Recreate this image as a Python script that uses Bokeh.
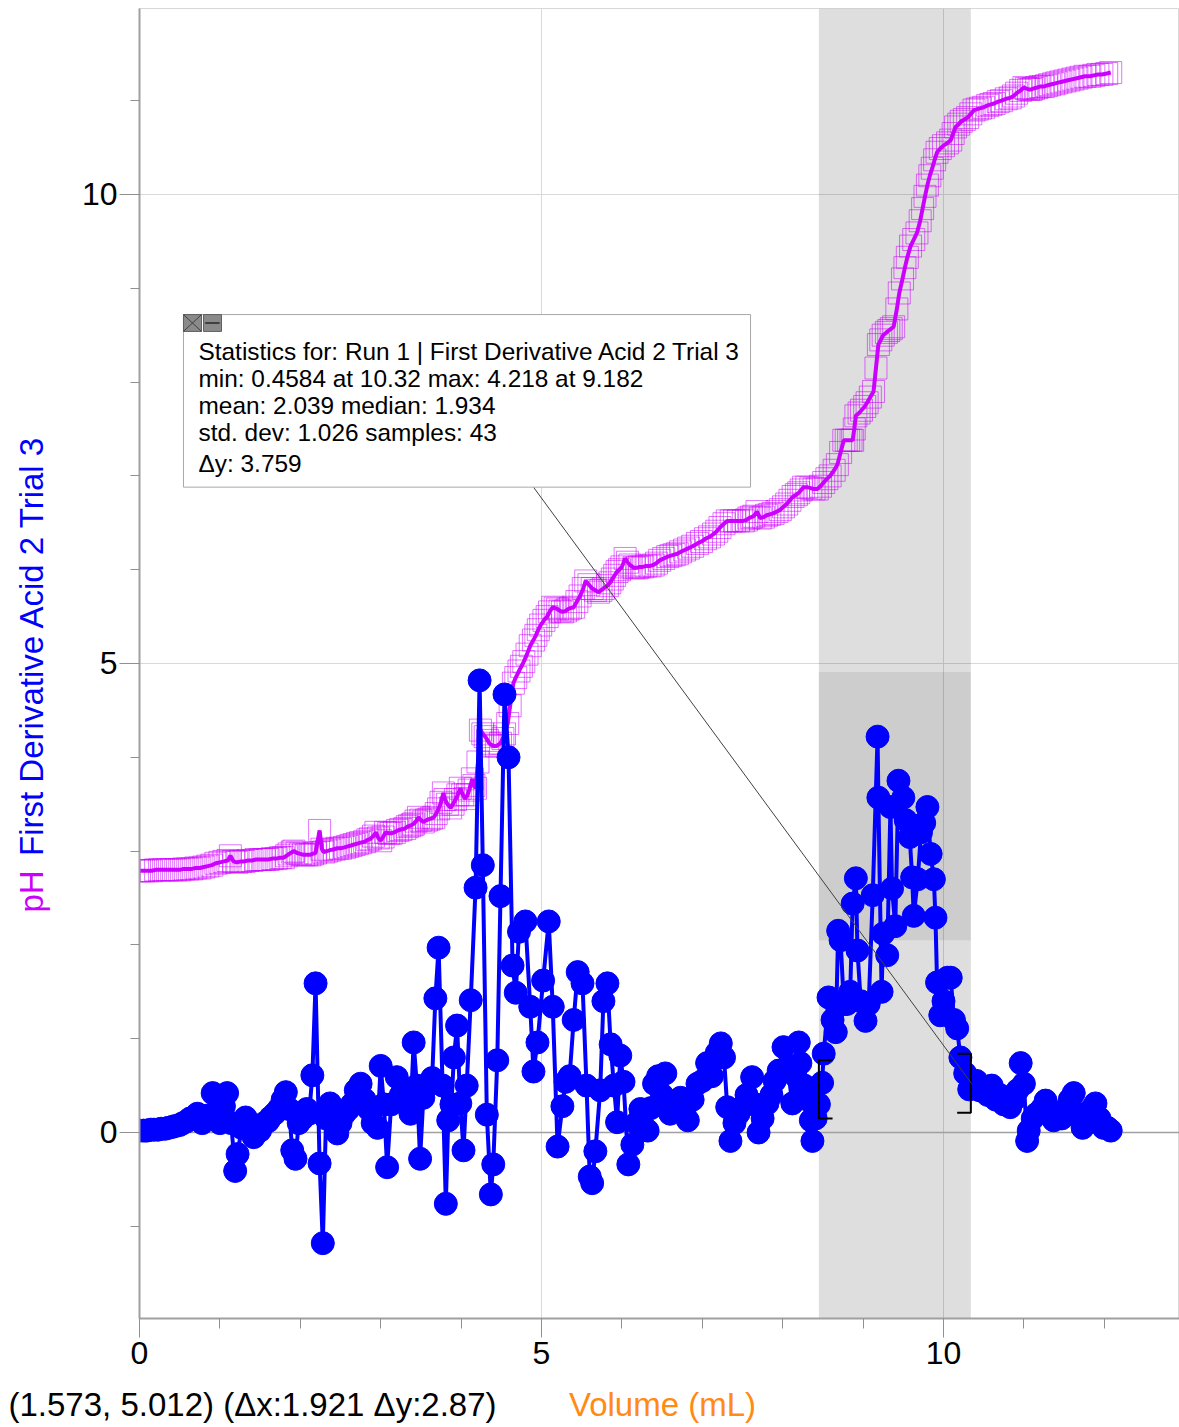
from bokeh.plotting import figure
from bokeh.models import Range1d, FixedTicker, BoxAnnotation, Label, Span
from bokeh.layouts import row, column
from bokeh.core.properties import value
from bokeh.embed import file_html
from bokeh.resources import INLINE
import math

# ---------------- data ----------------
ph_x = [0.00, 0.05, 0.10, 0.15, 0.20, 0.25, 0.30, 0.35, 0.40, 0.45, 0.50, 0.55, 0.60, 0.65,
        0.70, 0.75, 0.80, 0.85, 0.90, 0.95, 1.00, 1.05, 1.10, 1.13, 1.17, 1.21, 1.26, 1.30,
        1.35, 1.40, 1.45, 1.50, 1.55, 1.60, 1.65, 1.70, 1.75, 1.79, 1.83, 1.86, 1.90, 1.92,
        1.96, 2.00, 2.04, 2.08, 2.12, 2.15, 2.19, 2.24, 2.27, 2.29, 2.33, 2.37, 2.42, 2.46,
        2.50, 2.55, 2.59, 2.63, 2.67, 2.71, 2.75, 2.80, 2.84, 2.87, 2.91, 2.94, 2.97, 3.00,
        3.03, 3.06, 3.10, 3.13, 3.17, 3.21, 3.25, 3.30, 3.33, 3.36, 3.39, 3.41, 3.44, 3.47,
        3.50, 3.53, 3.57, 3.60, 3.63, 3.66, 3.69, 3.72, 3.75, 3.78, 3.80, 3.83, 3.87, 3.90,
        3.93, 3.96, 3.99, 4.02, 4.05, 4.08, 4.10, 4.14, 4.16, 4.18, 4.21, 4.24, 4.27, 4.30,
        4.33, 4.35, 4.38, 4.40, 4.44, 4.49, 4.52, 4.54, 4.58, 4.61, 4.65, 4.68, 4.72, 4.75,
        4.78, 4.82, 4.86, 4.90, 4.93, 4.96, 4.99, 5.03, 5.07, 5.10, 5.14, 5.17, 5.20, 5.23,
        5.26, 5.30, 5.33, 5.36, 5.40, 5.44, 5.48, 5.52, 5.55, 5.59, 5.63, 5.67, 5.71, 5.74,
        5.77, 5.82, 5.85, 5.88, 5.91, 5.94, 5.97, 6.00, 6.04, 6.07, 6.10, 6.15, 6.19, 6.22,
        6.26, 6.30, 6.35, 6.39, 6.43, 6.47, 6.52, 6.57, 6.61, 6.65, 6.69, 6.73, 6.78, 6.83,
        6.88, 6.94, 6.99, 7.04, 7.09, 7.14, 7.18, 7.22, 7.27, 7.31, 7.36, 7.40, 7.45, 7.51,
        7.55, 7.58, 7.61, 7.64, 7.68, 7.72, 7.76, 7.80, 7.84, 7.88, 7.93, 7.97, 8.01, 8.05,
        8.09, 8.13, 8.17, 8.20, 8.23, 8.26, 8.30, 8.35, 8.39, 8.43, 8.47, 8.51, 8.55, 8.59,
        8.64, 8.68, 8.72, 8.76, 8.79, 8.82, 8.85, 8.87, 8.89, 8.91, 8.95, 8.98, 9.02, 9.05,
        9.09, 9.13, 9.16, 9.19, 9.22, 9.25, 9.29, 9.32, 9.35, 9.38, 9.42, 9.45, 9.49, 9.52,
        9.55, 9.59, 9.63, 9.67, 9.71, 9.74, 9.77, 9.80, 9.83, 9.86, 9.89, 9.92, 9.96, 10.00,
        10.05, 10.09, 10.12, 10.15, 10.19, 10.22, 10.26, 10.30, 10.34, 10.38, 10.42, 10.46,
        10.50, 10.55, 10.59, 10.63, 10.68, 10.72, 10.78, 10.83, 10.87, 10.91, 10.96, 11.00,
        11.03, 11.06, 11.09, 11.12, 11.16, 11.20, 11.24, 11.28, 11.32, 11.37, 11.41, 11.46,
        11.51, 11.56, 11.61, 11.66, 11.71, 11.76, 11.82, 11.87, 11.92, 11.97, 12.03, 12.08]
ph_y = [2.79, 2.79, 2.79, 2.79, 2.80, 2.80, 2.80, 2.80, 2.80, 2.80, 2.80, 2.81, 2.81, 2.81,
        2.82, 2.82, 2.83, 2.84, 2.85, 2.87, 2.88, 2.89, 2.90, 2.95, 2.89, 2.88, 2.89, 2.89,
        2.90, 2.90, 2.91, 2.91, 2.91, 2.91, 2.92, 2.92, 2.93, 2.93, 2.95, 2.97, 2.99, 3.00,
        2.98, 2.97, 2.96, 2.96, 2.96, 2.97, 2.98, 3.22, 3.02, 2.99, 3.00, 3.01, 3.02, 3.03,
        3.03, 3.04, 3.05, 3.06, 3.07, 3.08, 3.09, 3.10, 3.12, 3.13, 3.16, 3.20, 3.14, 3.11,
        3.15, 3.20, 3.19, 3.19, 3.20, 3.22, 3.23, 3.24, 3.26, 3.27, 3.28, 3.29, 3.32, 3.36,
        3.33, 3.31, 3.33, 3.34, 3.35, 3.36, 3.40, 3.45, 3.52, 3.62, 3.55, 3.50, 3.46, 3.50,
        3.55, 3.60, 3.67, 3.60, 3.56, 3.60, 3.65, 3.77, 3.70, 3.67, 3.95, 4.29, 4.25, 4.22,
        4.18, 4.15, 4.13, 4.12, 4.12, 4.15, 4.20, 4.25, 4.36, 4.55, 4.79, 4.85, 4.92, 4.97,
        5.02, 5.10, 5.19, 5.25, 5.30, 5.36, 5.41, 5.46, 5.50, 5.55, 5.60, 5.59, 5.58, 5.56,
        5.55, 5.56, 5.58, 5.59, 5.60, 5.66, 5.72, 5.80, 5.88, 5.84, 5.80, 5.78, 5.76, 5.78,
        5.80, 5.83, 5.86, 5.90, 5.94, 5.98, 6.00, 6.03, 6.12, 6.08, 6.05, 6.02, 6.02, 6.03,
        6.03, 6.04, 6.04, 6.05, 6.07, 6.10, 6.12, 6.14, 6.15, 6.16, 6.17, 6.19, 6.21, 6.23,
        6.25, 6.28, 6.30, 6.33, 6.35, 6.38, 6.41, 6.45, 6.49, 6.52, 6.52, 6.52, 6.52, 6.52,
        6.53, 6.55, 6.56, 6.57, 6.62, 6.55, 6.56, 6.58, 6.59, 6.60, 6.62, 6.64, 6.67, 6.70,
        6.74, 6.78, 6.80, 6.82, 6.85, 6.88, 6.88, 6.87, 6.86, 6.86, 6.89, 6.93, 6.97, 7.00,
        7.06, 7.12, 7.25, 7.38, 7.38, 7.38, 7.38, 7.38, 7.50, 7.64, 7.67, 7.70, 7.74, 7.78,
        7.84, 7.90, 8.15, 8.40, 8.45, 8.50, 8.53, 8.55, 8.57, 8.59, 8.78, 8.95, 9.10, 9.22,
        9.33, 9.45, 9.52, 9.59, 9.72, 9.85, 9.98, 10.10, 10.20, 10.28, 10.37, 10.45, 10.49, 10.52,
        10.55, 10.58, 10.65, 10.72, 10.75, 10.78, 10.80, 10.82, 10.86, 10.90, 10.91, 10.92,
        10.93, 10.95, 10.96, 10.97, 10.99, 11.00, 11.02, 11.03, 11.05, 11.08, 11.11, 11.14,
        11.13, 11.12, 11.12, 11.13, 11.14, 11.15, 11.15, 11.16, 11.17, 11.18, 11.19, 11.20,
        11.21, 11.22, 11.23, 11.24, 11.25, 11.26, 11.26, 11.27, 11.28, 11.28, 11.29, 11.30]

deriv_x = [0.00, 0.05, 0.09, 0.14, 0.18, 0.23, 0.27, 0.32, 0.36, 0.41, 0.45, 0.50, 0.54, 0.59,
           0.63, 0.67, 0.72, 0.78, 0.84, 0.91, 0.96, 1.00, 1.05, 1.09, 1.14, 1.19, 1.22, 1.27,
           1.32, 1.37, 1.42, 1.46, 1.50, 1.55, 1.60, 1.63, 1.68, 1.73, 1.78, 1.82, 1.86, 1.90,
           1.94, 1.98, 2.03, 2.08, 2.11, 2.15, 2.19, 2.24, 2.28, 2.32, 2.37, 2.41, 2.46, 2.50,
           2.55, 2.60, 2.64, 2.69, 2.75, 2.80, 2.85, 2.90, 2.96, 3.00, 3.04, 3.08, 3.13, 3.20,
           3.25, 3.33, 3.37, 3.41, 3.45, 3.49, 3.53, 3.58, 3.64, 3.68, 3.72, 3.77, 3.81, 3.84,
           3.88, 3.91, 3.95, 3.99, 4.03, 4.07, 4.12, 4.18, 4.23, 4.27, 4.32, 4.37, 4.40, 4.45,
           4.49, 4.54, 4.59, 4.64, 4.68, 4.72, 4.80, 4.86, 4.90, 4.95, 5.02, 5.09, 5.14, 5.20,
           5.26, 5.30, 5.35, 5.40, 5.45, 5.51, 5.56, 5.60, 5.63, 5.67, 5.73, 5.77, 5.82, 5.86,
           5.90, 5.94, 5.98, 6.02, 6.08, 6.13, 6.18, 6.23, 6.28, 6.32, 6.36, 6.40, 6.45, 6.50,
           6.54, 6.60, 6.65, 6.73, 6.78, 6.82, 6.88, 6.94, 7.00, 7.06, 7.12, 7.18, 7.23, 7.27,
           7.31, 7.35, 7.40, 7.45, 7.50, 7.55, 7.62, 7.66, 7.70, 7.75, 7.81, 7.86, 7.90, 7.95,
           8.01, 8.06, 8.12, 8.16, 8.20, 8.22, 8.27, 8.31, 8.35, 8.37, 8.41, 8.45, 8.49, 8.51,
           8.57, 8.62, 8.66, 8.69, 8.72, 8.76, 8.80, 8.84, 8.87, 8.91, 8.93, 8.97, 9.03, 9.07,
           9.12, 9.18, 9.19, 9.23, 9.25, 9.30, 9.34, 9.36, 9.40, 9.44, 9.50, 9.53, 9.58, 9.61,
           9.63, 9.68, 9.72, 9.76, 9.80, 9.84, 9.88, 9.90, 9.92, 9.96, 10.00, 10.05, 10.09, 10.13,
           10.17, 10.21, 10.27, 10.32, 10.36, 10.41, 10.45, 10.50, 10.55, 10.60, 10.65, 10.70,
           10.75, 10.80, 10.83, 10.88, 10.92, 10.96, 11.00, 11.04, 11.06, 11.11, 11.16, 11.22,
           11.27, 11.32, 11.37, 11.42, 11.47, 11.52, 11.57, 11.62, 11.67, 11.73, 11.78, 11.84,
           11.89, 11.94, 11.99, 12.04, 12.08]
deriv_y = [0.02, 0.02, 0.02, 0.03, 0.03, 0.03, 0.04, 0.04, 0.05, 0.06, 0.07, 0.08, 0.10, 0.12,
           0.15, 0.16, 0.20, 0.10, 0.18, 0.42, 0.20, 0.10, 0.28, 0.42, 0.10, -0.41, -0.23, 0.05,
           0.16, 0.10, -0.05, 0.00, 0.02, 0.10, 0.12, 0.16, 0.20, 0.25, 0.35, 0.43, 0.25, -0.19,
           -0.28, 0.10, 0.15, 0.25, 0.20, 0.61, 1.59, -0.33, -1.18, 0.15, 0.31, 0.20, -0.01, 0.10,
           0.20, 0.25, 0.30, 0.45, 0.52, 0.35, 0.25, 0.10, 0.05, 0.71, 0.30, -0.37, 0.30, 0.59,
           0.40, 0.34, 0.20, 0.96, 0.50, -0.28, 0.37, 0.50, 0.58, 1.43, 1.97, 0.50, -0.76, 0.13,
           0.30, 0.80, 1.14, 0.31, -0.19, 0.50, 1.41, 2.61, 4.82, 2.85, 0.19, -0.66, -0.34, 0.77,
           2.52, 4.67, 4.00, 1.78, 1.49, 2.14, 2.25, 1.34, 0.65, 0.96, 1.62, 2.25, 1.34, -0.15,
           0.28, 0.54, 0.60, 1.20, 1.71, 1.59, 0.50, -0.47, -0.54, -0.20, 0.45, 1.40, 1.59, 0.94,
           0.50, 0.11, 0.82, 0.54, -0.34, -0.13, 0.10, 0.25, 0.05, 0.02, 0.26, 0.52, 0.60, 0.40,
           0.63, 0.20, 0.30, 0.37, 0.25, 0.13, 0.35, 0.52, 0.55, 0.74, 0.60, 0.85, 0.95, 0.80,
           0.27, -0.09, 0.10, 0.20, 0.27, 0.40, 0.59, 0.30, 0.00, 0.15, 0.31, 0.40, 0.55, 0.66,
           0.91, 0.70, 0.31, 0.60, 0.96, 0.74, 0.50, 0.35, 0.13, -0.09, 0.15, 0.30, 0.53, 0.84,
           1.44, 1.20, 1.07, 2.15, 2.05, 1.37, 1.37, 1.50, 2.44, 2.71, 1.94, 1.40, 1.19, 1.37,
           2.53, 4.22, 3.57, 1.50, 2.12, 1.89, 3.47, 2.60, 2.20, 3.75, 3.57, 3.33, 3.15, 2.72,
           2.31, 2.70, 3.20, 3.30, 3.47, 2.97, 2.70, 2.29, 1.60, 1.25, 1.40, 1.65, 1.65, 1.20,
           1.11, 0.80, 0.63, 0.46, 0.50, 0.55, 0.45, 0.45, 0.40, 0.50, 0.35, 0.40,
           0.30, 0.35, 0.27, 0.35, 0.45, 0.74, 0.52, -0.09, 0.02, 0.15, 0.20, 0.25,
           0.34, 0.20, 0.13, 0.20, 0.15, 0.25, 0.35, 0.42, 0.20, 0.05, 0.15, 0.25,
           0.31, 0.15, 0.05, 0.05, 0.02]

x_major_ticks = [0, 5, 10]
y_major_ticks = [0, 5, 10]
x_minor_ticks = list(range(0, 13))
y_minor_ticks = list(range(-1, 12))

selection = (8.45, 10.34)          # shaded x-range of the statistics
highlight = (2.05, 4.91)           # darker band inside the selection

stats_lines = [
    "Statistics for: Run 1 | First Derivative Acid 2 Trial 3",
    "min: 0.4584 at 10.32 max: 4.218 at 9.182",
    "mean: 2.039 median: 1.934",
    "std. dev: 1.026 samples: 43",
    "\u0394y: 3.759",
]
coord_text = "(1.573, 5.012) (\u0394x:1.921 \u0394y:2.87)"
x_label = "Volume (mL)"
y_label_blue = "First Derivative Acid 2 Trial 3"
y_label_mag = "pH"

# ---------------- styling / layout ----------------
FONT = "Liberation Sans"
MAG = "#cc00ff"
BLUE = "#0000ff"
GRID = "#d9d9d9"
AXIS = "#a0a0a0"

W, H = 1179, 1427
LEFT_W = 70        # strip holding the vertical axis titles
BOTTOM_H = 45      # strip holding the readout and the x title
MAIN_W, MAIN_H = W - LEFT_W, H - BOTTOM_H
BORDER_L, BORDER_T, BORDER_B = 69, 8, 64
X_PER_PX = 1 / 80.4
Y_PER_PX = 1 / 93.8
X0 = 0.0
X1 = X0 + (MAIN_W - BORDER_L) * X_PER_PX
Y0 = -1.983
Y1 = Y0 + (MAIN_H - BORDER_T - BORDER_B) * Y_PER_PX

p = figure(width=MAIN_W, height=MAIN_H, x_range=Range1d(X0, X1), y_range=Range1d(Y0, Y1),
           output_backend="svg", toolbar_location=None,
           min_border_left=BORDER_L, min_border_right=0, min_border_top=BORDER_T,
           min_border_bottom=BORDER_B)
p.background_fill_color = "white"
p.border_fill_color = "white"
p.outline_line_color = "#d8d8d8"
p.outline_line_width = 1

for ax, majors, minors, tout, mout in ((p.xaxis, x_major_ticks, x_minor_ticks, 19, 10),
                                       (p.yaxis, y_major_ticks, y_minor_ticks, 20, 9)):
    ax.ticker = FixedTicker(ticks=majors, minor_ticks=minors)
    ax.axis_line_color = AXIS
    ax.axis_line_width = 2
    ax.major_tick_line_color = "#909090"
    ax.major_tick_line_width = 1
    ax.minor_tick_line_color = "#909090"
    ax.minor_tick_line_width = 1
    ax.major_tick_in = 0
    ax.minor_tick_in = 0
    ax.major_tick_out = tout
    ax.minor_tick_out = mout
    ax.major_label_text_font = FONT
    ax.major_label_text_font_size = "32px"
    ax.major_label_text_color = "black"
p.xaxis.major_label_standoff = 4
p.yaxis.major_label_standoff = 2

p.xgrid.ticker = FixedTicker(ticks=[5, 10])
p.ygrid.ticker = FixedTicker(ticks=[5, 10])
p.xgrid.grid_line_color = GRID
p.ygrid.grid_line_color = GRID
p.xgrid.grid_line_width = 1
p.ygrid.grid_line_width = 1

# shaded selection
p.add_layout(BoxAnnotation(left=selection[0], right=selection[1], fill_color="black",
                           fill_alpha=0.13, line_alpha=0, level="underlay"))
p.add_layout(BoxAnnotation(left=selection[0], right=selection[1], bottom=highlight[0],
                           top=highlight[1], fill_color="black", fill_alpha=0.075,
                           line_alpha=0, level="underlay"))
p.add_layout(Span(location=0, dimension="width", line_color=AXIS, line_width=1.5,
                  level="underlay"))

# pH series
p.line(ph_x, ph_y, line_color=MAG, line_width=4)
p.scatter(ph_x, ph_y, marker="square", size=22, fill_alpha=0, line_color=MAG,
          line_alpha=0.55, line_width=1)

# derivative series
p.line(deriv_x, deriv_y, line_color=BLUE, line_width=4, line_join="round")
p.scatter(deriv_x, deriv_y, marker="circle", size=23, fill_color=BLUE, line_color=BLUE)

# brackets at selection ends
bx0, bx1 = selection
p.line([bx0 + 0.17, bx0, bx0, bx0 + 0.17], [0.77, 0.77, 0.15, 0.15], line_color="black",
       line_width=2)
p.line([bx1 - 0.17, bx1, bx1, bx1 - 0.17], [0.84, 0.84, 0.21, 0.21], line_color="black",
       line_width=2)

# statistics box
box_l, box_r, box_b, box_t = 0.547, 7.60, 6.88, 8.72
p.segment(x0=[4.90], y0=[box_b], x1=[bx1 + 0.01], y1=[0.52], line_color="#404040",
          line_width=1)
p.quad(left=[box_l], right=[box_r], bottom=[box_b], top=[box_t], fill_color="white",
       line_color="#a8a8a8", line_width=1)
icon_h = 0.18
p.quad(left=[box_l, box_l + 0.249], right=[box_l + 0.224, box_l + 0.473],
       bottom=[box_t - icon_h] * 2, top=[box_t] * 2, fill_color="#8a8a8a",
       line_color="#606060", line_width=1)
p.segment(x0=[box_l, box_l], y0=[box_t, box_t - icon_h], x1=[box_l + 0.224, box_l + 0.224],
          y1=[box_t - icon_h, box_t], line_color="#404040", line_width=1)
p.segment(x0=[box_l + 0.27], y0=[box_t - icon_h / 2], x1=[box_l + 0.45],
          y1=[box_t - icon_h / 2], line_color="#404040", line_width=2)

line_ys = [8.326, 8.038, 7.751, 7.463, 7.132]
for txt, yy in zip(stats_lines, line_ys):
    p.add_layout(Label(x=0.734, y=yy, text=txt, text_font=FONT, text_font_size="24.4px",
                       text_color="black", text_baseline="middle", text_align="left"))


def strip(width, height, y_range):
    f = figure(width=width, height=height, x_range=Range1d(0, width), y_range=y_range,
               output_backend="svg", toolbar_location=None,
               x_axis_type=None, y_axis_type=None, min_border=0)
    f.outline_line_color = None
    f.grid.visible = False
    f.background_fill_color = "white"
    f.border_fill_color = "white"
    return f


# vertical axis titles (left strip shares the main y scale)
left = strip(LEFT_W, MAIN_H, p.y_range)
left.text(x=[31], y=[5.19], text=[y_label_blue], angle=math.pi / 2,
          text_font=value(FONT), text_font_size="33px", text_color=BLUE,
          text_align="center", text_baseline="middle")
left.text(x=[31], y=[2.57], text=[y_label_mag], angle=math.pi / 2,
          text_font=value(FONT), text_font_size="33px", text_color=MAG,
          text_align="center", text_baseline="middle")

# readout and x title (bottom strip)
bottom = strip(W, BOTTOM_H, Range1d(0, BOTTOM_H))
bottom.text(x=[8], y=[BOTTOM_H - 22], text=[coord_text], text_font=value(FONT),
            text_font_size="33px", text_color="black", text_align="left",
            text_baseline="middle")
bottom.text(x=[662], y=[BOTTOM_H - 22], text=[x_label], text_font=value(FONT),
            text_font_size="33px", text_color="#ff8a14", text_align="center",
            text_baseline="middle")

layout = column(row(left, p, spacing=0), bottom, spacing=0)
open("out.html", "w").write(file_html(layout, INLINE))
